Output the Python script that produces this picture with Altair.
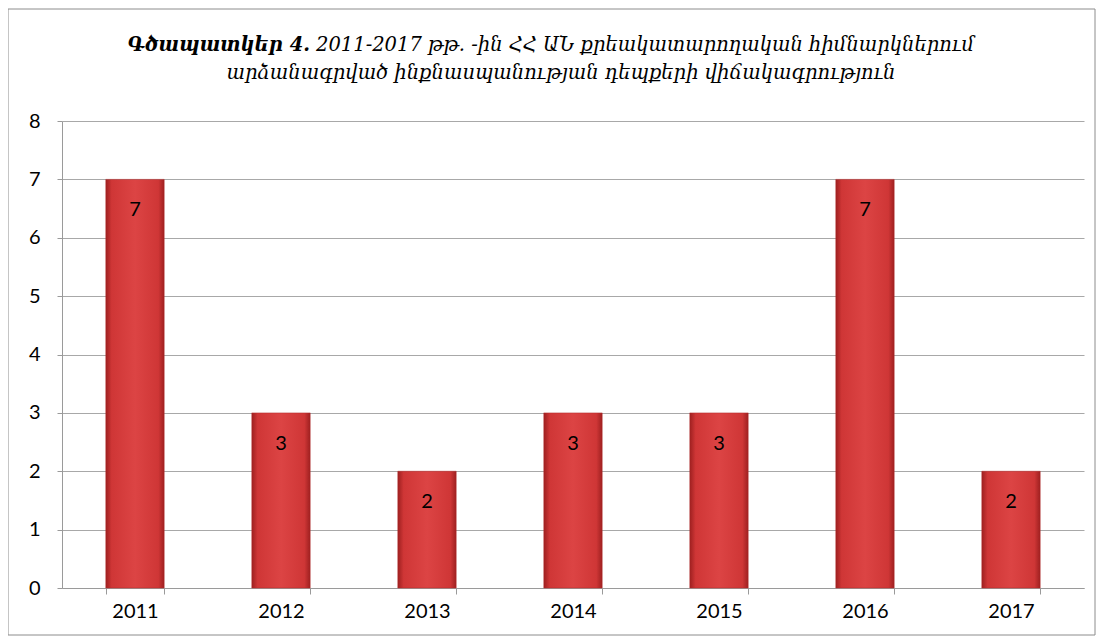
import altair as alt
import pandas as pd

years = ["2011", "2012", "2013", "2014", "2015", "2016", "2017"]
cases = [7, 3, 2, 3, 3, 7, 2]

title_bold = "Գծապատկեր 4."
title_rest = "2011-2017 թթ. -ին ՀՀ ԱՆ  քրեակատարողական հիմնարկներում"
title_line2 = "արձանագրված ինքնասպանության դեպքերի վիճակագրություն"

df = pd.DataFrame({"year": years, "cases": cases})

W, H = 1022, 467
label_font = "Lato"

x = alt.X("year:N", sort=years, title=None,
          scale=alt.Scale(paddingInner=0.6, paddingOuter=0.3),
          axis=alt.Axis(labelAngle=0, labelFont=label_font, labelFontSize=20, labelColor="#000",
                        labelPadding=7, domainColor="#9a9a9a", tickColor="#9a9a9a",
                        tickBand="extent", tickSize=6, grid=False))
y = alt.Y("cases:Q", title=None,
          scale=alt.Scale(domain=[0, 8]),
          axis=alt.Axis(values=list(range(0, 9)), format="d", labelFont=label_font,
                        labelFontSize=20, labelColor="#000", labelPadding=17,
                        domainColor="#9a9a9a", tickColor="#9a9a9a", tickSize=5,
                        gridColor="#a8a8a8", grid=True))

grad = alt.Gradient(
    gradient="linear", x1=0, x2=1, y1=0, y2=0,
    stops=[
        alt.GradientStop(color="#9e2020", offset=0),
        alt.GradientStop(color="#cf3636", offset=0.1),
        alt.GradientStop(color="#dc4444", offset=0.5),
        alt.GradientStop(color="#cf3636", offset=0.9),
        alt.GradientStop(color="#9e2020", offset=1),
    ],
)

base = alt.Chart(df)
bars = base.mark_bar(color=grad, stroke="#b02a2a", strokeWidth=0.5).encode(x=x, y=y)
labels = base.mark_text(font=label_font, fontSize=20, color="#000", dy=31,
                        baseline="middle").encode(x=alt.X("year:N", sort=years),
                                                  y="cases:Q", text="cases:Q")

tdf = pd.DataFrame({"a": [title_bold], "b": [title_rest], "c": [title_line2]})
tfont = "DejaVu Serif"
t1 = alt.Chart(tdf).mark_text(font=tfont, fontStyle="italic", fontWeight="bold",
                              fontSize=19.5, align="right", baseline="middle", color="#000").encode(
    text="a:N", x=alt.value(248), y=alt.value(-76))
t2 = alt.Chart(tdf).mark_text(font=tfont, fontStyle="italic",
                              fontSize=19.5, align="left", baseline="middle", color="#000").encode(
    text="b:N", x=alt.value(254), y=alt.value(-76))
t3 = alt.Chart(tdf).mark_text(font=tfont, fontStyle="italic",
                              fontSize=19.5, align="center", baseline="middle", color="#000").encode(
    text="c:N", x=alt.value(499), y=alt.value(-48))
border = alt.Chart(tdf).mark_rect(fill=None, stroke="#8c8c8c", strokeWidth=1, clip=False).encode(
    x=alt.value(-54), x2=alt.value(1033), y=alt.value(-112), y2=alt.value(514))

chart = alt.layer(border, bars, labels, t1, t2, t3).properties(
    width=W, height=H,
    autosize=alt.AutoSizeParams(type="none"),
    padding={"left": 54, "top": 113, "right": 12, "bottom": 50},
    background="white",
).configure_view(stroke=None)

chart.save("out.html", embed_options={"renderer": "svg", "actions": False})
